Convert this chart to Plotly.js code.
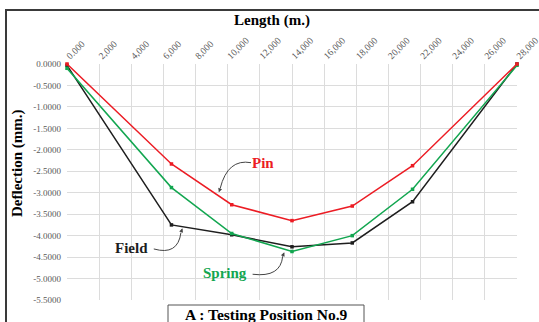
<!DOCTYPE html>
<html>
<head>
<meta charset="utf-8">
<script src="https://cdn.plot.ly/plotly-3.0.1.min.js"></script>
<style>
  html, body { margin: 0; padding: 0; background: #fff; overflow: hidden; }
  #frame { position: absolute; left: 5px; top: 9px; width: 600px; height: 400px;
           border-top: 2px solid #3a3a3a; border-left: 2px solid #3a3a3a; pointer-events: none; }
  #chart { position: absolute; left: 0; top: 0; width: 539px; height: 322px; }
</style>
</head>
<body>
<div id="chart"></div>
<div id="frame"></div>
<script>
// Span positions along the bridge (m. shown on axis), and measured deflections (mm.)
const stations = [0, 6500, 10250, 14000, 17750, 21500, 28000];
const pinDeflection = [0.00, -2.33, -3.28, -3.65, -3.31, -2.37, 0.00];
const springDeflection = [-0.10, -2.88, -3.95, -4.37, -4.00, -2.92, -0.03];
const fieldDeflection = [-0.03, -3.75, -3.98, -4.26, -4.17, -3.21, 0.00];

const xTickVals = [0, 2000, 4000, 6000, 8000, 10000, 12000, 14000, 16000, 18000, 20000, 22000, 24000, 26000, 28000];
const xTickText = ["0.000", "2,000", "4,000", "6,000", "8,000", "10,000", "12,000", "14,000",
                   "16,000", "18,000", "20,000", "22,000", "24,000", "26,000", "28,000"];
const yTickVals = [0, -0.5, -1, -1.5, -2, -2.5, -3, -3.5, -4, -4.5, -5, -5.5];
const yTickText = ["0.0000", "-0.5000", "-1.0000", "-1.5000", "-2.0000", "-2.5000", "-3.0000",
                   "-3.5000", "-4.0000", "-4.5000", "-5.0000", "-5.5000"];

const RED = "#ec1c24", GREEN = "#12a650", BLACK = "#1e1e1e";
const serif = "Liberation Serif, Times New Roman, serif";

function series(name, y, color) {
  return {
    type: "scatter", mode: "lines+markers", name: name,
    x: stations, y: y, cliponaxis: false,
    line: { color: color, width: 1.5 },
    marker: { color: color, size: 3.5, symbol: "square" }
  };
}

const traces = [
  series("Field", fieldDeflection, BLACK),
  series("Spring", springDeflection, GREEN),
  series("Pin", pinDeflection, RED)
];

// Curved leader lines from each label to its curve
function leader(path) {
  return { type: "path", xref: "x", yref: "y", path: path, line: { color: "#444", width: 1 } };
}

function arrowHead(x, y, ax, ay) {
  return { x: x, y: y, ax: ax, ay: ay, axref: "x", ayref: "y", xref: "x", yref: "y",
           showarrow: true, arrowhead: 2, arrowsize: 0.8, arrowwidth: 1, arrowcolor: "#444", text: "" };
}

// Plot area spans 67..517 px across and 64..300 px down
const toPaperX = px => (px - 67) / 450;
const toPaperY = py => (300 - py) / 236;

const layout = {
  width: 539, height: 322,
  margin: { l: 67, r: 22, t: 64, b: 22 },
  paper_bgcolor: "#fff", plot_bgcolor: "#fff",
  showlegend: false,
  font: { family: serif, color: "#595959", size: 9 },
  title: {
    text: "Length (m.)", x: 272 / 539, xanchor: "center", xref: "container",
    y: 1 - 20 / 322, yanchor: "middle", yref: "container",
    font: { family: serif, size: 15, color: "#000", weight: "bold" }
  },
  xaxis: {
    side: "top", range: [0, 28000], tickvals: xTickVals, ticktext: xTickText,
    tickangle: -45, showgrid: true, gridcolor: "#dcdcdc", gridwidth: 1,
    zeroline: false, showline: false, ticks: "", ticklabeloverflow: "allow",
    tickfont: { family: serif, size: 9.5, color: "#595959" }
  },
  yaxis: {
    range: [-5.5, 0], tickvals: yTickVals, ticktext: yTickText,
    showgrid: true, gridcolor: "#dcdcdc", gridwidth: 1,
    zeroline: false, showline: false, ticks: "", ticklabelstandoff: 5,
    tickfont: { family: serif, size: 9, color: "#595959" }
  },
  annotations: [
    { x: toPaperX(17), y: toPaperY(164), xref: "paper", yref: "paper",
      xanchor: "center", yanchor: "middle", text: "<b>Deflection (mm.)</b>", showarrow: false,
      textangle: -90, font: { family: serif, size: 15, color: "#000" } },
    { x: 12200, y: -2.30, xref: "x", yref: "y", text: "<b>Pin</b>", showarrow: false,
      font: { family: serif, size: 15, color: RED } },
    { x: 4000, y: -4.29, xref: "x", yref: "y", text: "<b>Field</b>", showarrow: false,
      font: { family: serif, size: 15, color: BLACK } },
    { x: 9800, y: -4.87, xref: "x", yref: "y", text: "<b>Spring</b>", showarrow: false,
      font: { family: serif, size: 15, color: GREEN } },
    arrowHead(9450, -2.99, 9530, -2.90),
    arrowHead(7180, -3.83, 7090, -3.93),
    arrowHead(13520, -4.39, 13420, -4.48),
    { x: toPaperX(266), y: toPaperY(304), xref: "paper", yref: "paper",
      xanchor: "center", yanchor: "top",
      text: "<b>A : Testing Position No.9</b>",
      showarrow: false, font: { family: serif, size: 15.5, color: "#000" } }
  ],
  shapes: [
    leader("M 11450 -2.30 Q 10000 -2.20 9530 -2.90"),
    leader("M 5400 -4.31 Q 6900 -4.47 7090 -3.93"),
    leader("M 11550 -4.90 Q 13300 -4.98 13420 -4.48"),
    { type: "rect", xref: "paper", yref: "paper", x0: toPaperX(168), x1: toPaperX(364),
      y0: toPaperY(305), y1: toPaperY(360),
      line: { color: "#555", width: 1 }, fillcolor: "rgba(0,0,0,0)" }
  ]
};

Plotly.newPlot("chart", traces, layout, { displayModeBar: false, staticPlot: true });
</script>
</body>
</html>
